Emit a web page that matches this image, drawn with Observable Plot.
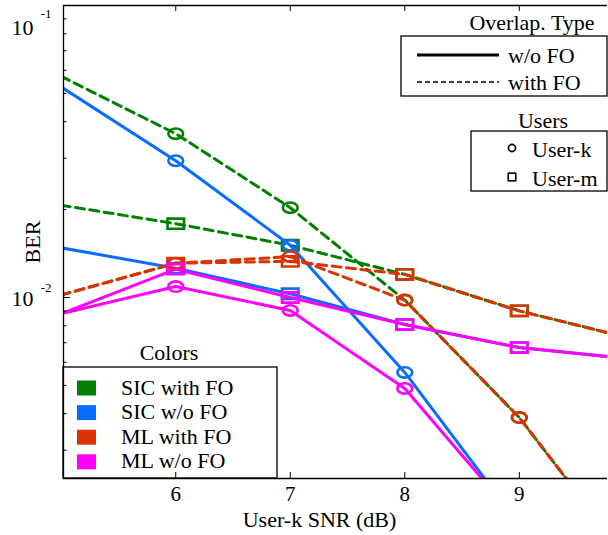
<!DOCTYPE html>
<html><head><meta charset="utf-8">
<script src="https://cdn.jsdelivr.net/npm/d3@7"></script>
<script src="https://cdn.jsdelivr.net/npm/@observablehq/plot@0.6"></script>
<style>
body{margin:0;background:#fff}
#chart{width:608px;height:535px}
</style>
</head><body><div id="chart"></div>
<script>
// ---- data ----
const snr = [5, 6, 7, 8, 9, 10];
const markerSnr = [6, 7, 8, 9];
const sicFoK = [0.0572, 0.0364, 0.0203, 0.0098, 0.00388, 0.0012];
const sicFoM = [0.0207, 0.0179, 0.0151, 0.0120, 0.0090, 0.0072];
const sicK   = [0.0526, 0.0294, 0.0151, 0.00554, 0.00167, null];
const sicM   = [0.0148, 0.0126, 0.0103, 0.00808, 0.00674, 0.00615];
const mlFoK  = [0.0102, 0.0131, 0.0138, 0.0098, 0.00388, 0.0012];
const mlFoM  = [0.0102, 0.0131, 0.0133, 0.0120, 0.0090, 0.0072];
const mlK    = [0.0088, 0.0109, 0.00903, 0.00488, 0.0017, null];
const mlM    = [0.0088, 0.0125, 0.0100, 0.00808, 0.00674, 0.00615];

const methods = ["SIC with FO", "SIC w/o FO", "ML with FO", "ML w/o FO"];
const methodColors = ["#008000", "#0a6cff", "#d93300", "#ff00ff"];
const users = ["User-k", "User-m"];
const overlapTypes = ["w/o FO", "with FO"];
const xTicks = [6, 7, 8, 9];
const yMajor = [0.01, 0.1];
const yMinor = [0.003, 0.004, 0.005, 0.006, 0.007, 0.008, 0.009,
                0.02, 0.03, 0.04, 0.05, 0.06, 0.07, 0.08, 0.09];
const xLabel = "User-k SNR (dB)";
const yLabel = "BER";

const curves = [
  {method: methods[0], user: users[0], ber: sicFoK},
  {method: methods[0], user: users[1], ber: sicFoM},
  {method: methods[1], user: users[0], ber: sicK},
  {method: methods[1], user: users[1], ber: sicM},
  {method: methods[2], user: users[0], ber: mlFoK},
  {method: methods[2], user: users[1], ber: mlFoM},
  {method: methods[3], user: users[0], ber: mlK},
  {method: methods[3], user: users[1], ber: mlM}
];

// ---- layout ----
const W = 608, H = 535;
const mL = 63, mR = 1, mT = 5, mB = 57;
const plotW = W - mL - mR, plotH = H - mT - mB;
const xDomain = [5.02, 9.77];
const yDomain = [0.0024, 0.1];
const font = "'Liberation Serif', 'Times New Roman', serif";

const K = 0.5523;
function ellipseSym(rx, ry) {
  return {draw(ctx) {
    ctx.moveTo(rx, 0);
    ctx.bezierCurveTo(rx, K * ry, K * rx, ry, 0, ry);
    ctx.bezierCurveTo(-K * rx, ry, -rx, K * ry, -rx, 0);
    ctx.bezierCurveTo(-rx, -K * ry, -K * rx, -ry, 0, -ry);
    ctx.bezierCurveTo(K * rx, -ry, rx, -K * ry, rx, 0);
    ctx.closePath();
  }};
}
function boxSym(w, h) {
  return {draw(ctx) { ctx.rect(-w / 2, -h / 2, w, h); }};
}
const symK = ellipseSym(7.4, 5.2);
const symM = boxSym(16.5, 10.2);

const marks = [];
curves.forEach(c => {
  const color = methodColors[methods.indexOf(c.method)];
  const dashed = c.method.includes("with FO");
  const rows = snr.map((x, i) => ({x, y: c.ber[i]}));
  marks.push(Plot.line(rows, {
    x: "x", y: "y", stroke: color, strokeWidth: 3,
    strokeDasharray: dashed ? "9,5.5" : null, clip: true
  }));
  marks.push(Plot.dot(rows.filter(r => markerSnr.includes(r.x) && r.y != null), {
    x: "x", y: "y", stroke: color, fill: "none", strokeWidth: 2.6,
    symbol: c.user === users[0] ? symK : symM, r: 6, clip: true
  }));
});

const chart = Plot.plot({
  width: W, height: H,
  marginLeft: mL, marginRight: mR, marginTop: mT, marginBottom: mB,
  style: {fontFamily: font, fontSize: "22px", background: "white", overflow: "visible"},
  x: {domain: xDomain, axis: null},
  y: {type: "log", domain: yDomain, axis: null},
  marks: [
    ...marks,
    // frame lines
    Plot.ruleX([xDomain[0]], {stroke: "black", strokeWidth: 1.3}),
    Plot.ruleY([yDomain[0], yDomain[1]], {stroke: "black", strokeWidth: 1.3}),
    // inward ticks
    Plot.tickX(xTicks, {x: d => d, insetTop: plotH - 6, stroke: "black", strokeWidth: 1}),
    Plot.tickX(xTicks, {x: d => d, insetBottom: plotH - 6, stroke: "black", strokeWidth: 1}),
    Plot.tickY(yMajor, {y: d => d, insetRight: plotW - 7, stroke: "black", strokeWidth: 1}),
    Plot.tickY(yMinor, {y: d => d, insetRight: plotW - 3.5, stroke: "black", strokeWidth: 1}),
    // tick labels
    Plot.text(xTicks, {x: d => d, text: d => String(d), frameAnchor: "bottom", lineAnchor: "middle", dy: 16, fontSize: 21, fill: "black"}),
    Plot.text([yMajor[0]], {y: d => d, text: () => "10", frameAnchor: "left", textAnchor: "end", lineAnchor: "middle", dx: -30, dy: 1, fontSize: 22, fill: "black"}),
    Plot.text([yMajor[1]], {y: d => d, text: () => "10", frameAnchor: "left", textAnchor: "end", lineAnchor: "middle", dx: -30, dy: 22, fontSize: 22, fill: "black"}),
    Plot.text([yMajor[0]], {y: d => d, text: d => String(Math.round(Math.log10(d))), frameAnchor: "left", textAnchor: "end", lineAnchor: "middle", dx: -12, dy: -10, fontSize: 13, fill: "black"}),
    Plot.text([yMajor[1]], {y: d => d, text: d => String(Math.round(Math.log10(d))), frameAnchor: "left", textAnchor: "end", lineAnchor: "middle", dx: -12, dy: 8, fontSize: 13, fill: "black"}),
    // axis labels
    Plot.text([yLabel], {text: d => d, frameAnchor: "left", textAnchor: "middle", lineAnchor: "middle", dx: -31, rotate: -90, fontSize: 22, fill: "black"}),
    Plot.text([xLabel], {text: d => d, frameAnchor: "bottom", textAnchor: "middle", lineAnchor: "middle", dx: -16, dy: 41, fontSize: 22, fill: "black"})
  ]
});
document.getElementById("chart").appendChild(chart);

// ---- legends (layout only) ----
const svg = d3.select(chart);
const lg = svg.append("g").attr("font-family", font).attr("font-size", 22)
  .attr("fill", "black").attr("text-anchor", "start");

// Overlap type legend
lg.append("text").attr("x", 532).attr("y", 30).attr("text-anchor", "middle").text("Overlap. Type");
lg.append("rect").attr("x", 401).attr("y", 36).attr("width", 206).attr("height", 60)
  .attr("fill", "white").attr("stroke", "black").attr("stroke-width", 1.3);
overlapTypes.forEach((t, i) => {
  const y = 55 + i * 27;
  lg.append("line").attr("x1", 417).attr("x2", 499).attr("y1", y).attr("y2", y)
    .attr("stroke", "black").attr("stroke-width", i === 0 ? 3 : 1.3)
    .attr("stroke-dasharray", i === 0 ? null : "5,3");
  lg.append("text").attr("x", 508).attr("y", y + 8).attr("text-anchor", "start").text(t);
});

// Users legend
lg.append("text").attr("x", 543).attr("y", 128).attr("text-anchor", "middle").text("Users");
lg.append("rect").attr("x", 471).attr("y", 131).attr("width", 136).attr("height", 60)
  .attr("fill", "white").attr("stroke", "black").attr("stroke-width", 1.3);
users.forEach((u, i) => {
  const y = 148 + i * 29;
  if (i === 0) {
    lg.append("circle").attr("cx", 512).attr("cy", y).attr("r", 3.6)
      .attr("fill", "none").attr("stroke", "black").attr("stroke-width", 1.6);
  } else {
    lg.append("rect").attr("x", 512 - 3.8).attr("y", y - 3.8).attr("width", 7.6).attr("height", 7.6)
      .attr("fill", "none").attr("stroke", "black").attr("stroke-width", 1.6);
  }
  lg.append("text").attr("x", 532).attr("y", y + 9).attr("text-anchor", "start").text(u);
});

// Colors legend
lg.append("text").attr("x", 169).attr("y", 360).attr("text-anchor", "middle").text("Colors");
lg.append("rect").attr("x", 63).attr("y", 367).attr("width", 214).attr("height", 111)
  .attr("fill", "none").attr("stroke", "black").attr("stroke-width", 1.3);
methods.forEach((m, i) => {
  const y = 388 + i * 24.6;
  lg.append("rect").attr("x", 77).attr("y", y - 7.5).attr("width", 19).attr("height", 15)
    .attr("fill", methodColors[i]);
  lg.append("text").attr("x", 121).attr("y", y + 6.5).attr("text-anchor", "start").text(m);
});
</script>
</body></html>
